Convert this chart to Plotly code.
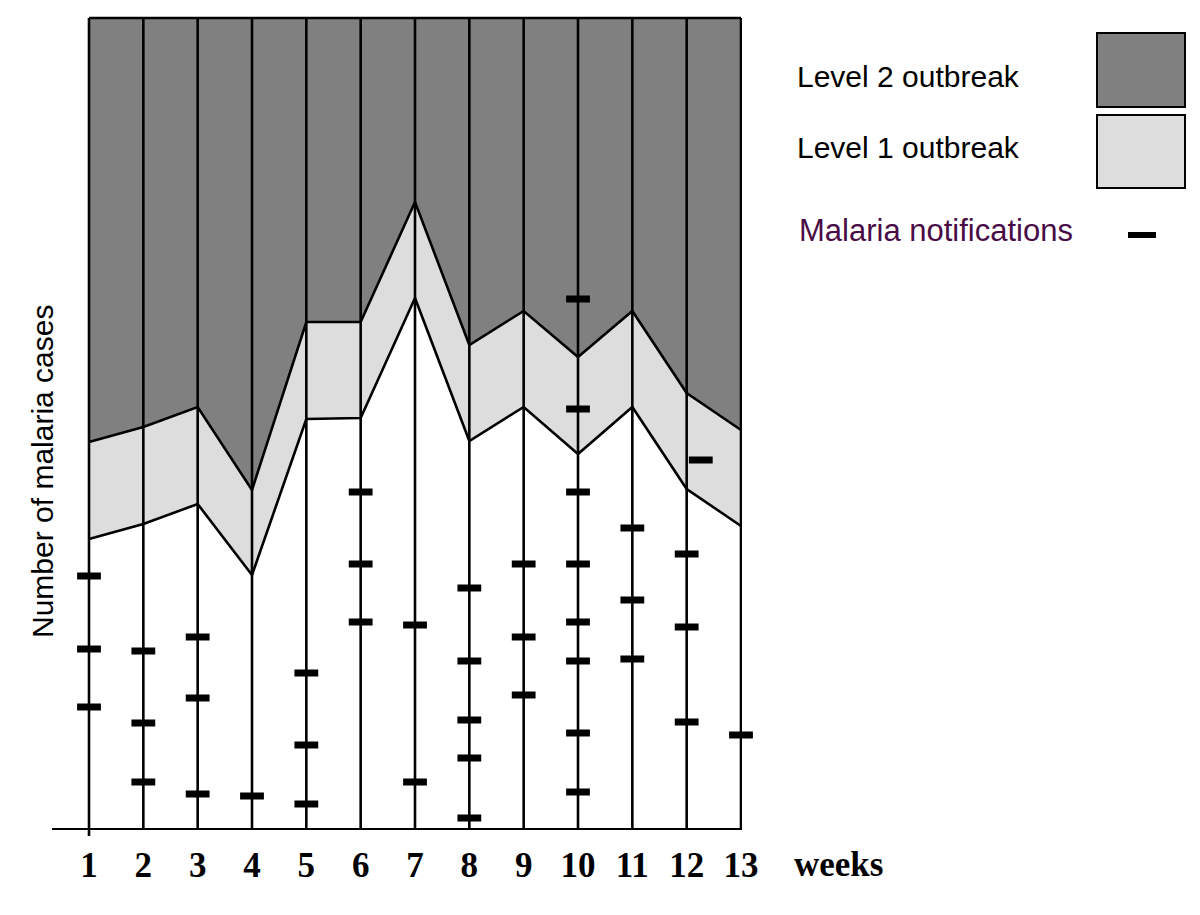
import plotly.graph_objects as go

# ---------------- data ----------------
weeks = [1, 2, 3, 4, 5, 6, 7, 8, 9, 10, 11, 12, 13]
week_labels = ["1", "2", "3", "4", "5", "6", "7", "8", "9", "10", "11", "12", "13"]
level1_threshold = [28.9, 30.4, 32.4, 25.3, 40.9, 41.0, 53.0, 38.7, 42.1, 37.4, 42.1, 33.9, 30.2]
level2_threshold = [38.6, 40.1, 42.1, 33.8, 50.6, 50.6, 62.6, 48.3, 51.7, 47.1, 51.7, 43.5, 39.8]
chart_top = 81.0

notif_week = [1, 1, 1,
              2, 2, 2,
              3, 3, 3,
              4,
              5, 5, 5,
              6, 6, 6,
              7, 7,
              8, 8, 8, 8, 8,
              9, 9, 9,
              10, 10, 10, 10, 10, 10, 10, 10,
              11, 11, 11,
              12.26, 12, 12, 12,
              13]
notif_cases = [25.2, 17.9, 12.1,
               17.7, 10.5, 4.6,
               19.1, 13.0, 3.4,
               3.2,
               15.5, 8.3, 2.4,
               33.6, 26.4, 20.6,
               20.3, 4.6,
               24.0, 16.7, 10.8, 7.0, 1.0,
               26.4, 19.1, 13.3,
               52.9, 41.9, 33.6, 26.4, 20.6, 16.7, 9.5, 3.6,
               30.0, 22.8, 16.9,
               36.8, 27.4, 20.1, 10.6,
               9.3]

legend_labels = ["Level 2 outbreak", "Level 1 outbreak", "Malaria notifications"]

# ---------------- geometry (page has an 8px body margin) ----------------
OFF = 8
W, H = 1200 - OFF, 915 - OFF
L, R, T, B = 52 - OFF, 742 - OFF, 16 - OFF, 828 - OFF
DARK = "#808080"
LIGHT = "#dddddd"
LW = 2.6


def px2x(p):
    return (p - OFF - L) / (R - L)


def py2y(p):
    return (B - (p - OFF)) / (B - T)


px_per_week = (741 - 89) / 12.0
x_lo = 1 - (89 - 52) / px_per_week
x_hi = 13 + (742 - 741) / px_per_week
y_hi = chart_top + (18 - 16) / 10.0

fig = go.Figure()

# lower threshold (boundary of white area)
fig.add_trace(go.Scatter(x=weeks, y=level1_threshold, mode="lines",
                         line=dict(color="black", width=LW), hoverinfo="skip",
                         showlegend=False))
# level 1 band
fig.add_trace(go.Scatter(x=weeks, y=level2_threshold, mode="lines", fill="tonexty",
                         fillcolor=LIGHT, line=dict(color="black", width=LW),
                         hoverinfo="skip", showlegend=False))
# level 2 band up to chart top
fig.add_trace(go.Scatter(x=weeks, y=[chart_top] * len(weeks), mode="lines", fill="tonexty",
                         fillcolor=DARK, line=dict(color="black", width=LW),
                         hoverinfo="skip", showlegend=False))

# vertical week lines
vx, vy = [], []
for w in weeks:
    vx += [w, w, None]
    vy += [0, chart_top, None]
fig.add_trace(go.Scatter(x=vx, y=vy, mode="lines", line=dict(color="black", width=LW),
                         hoverinfo="skip", showlegend=False))

# malaria notifications
fig.add_trace(go.Scatter(x=notif_week, y=notif_cases, mode="markers",
                         marker=dict(symbol="line-ew", size=17,
                                     line=dict(color="black", width=7)),
                         cliponaxis=False, showlegend=False))

shapes = []
# tick at week 1
shapes.append(dict(type="line", xref="x", yref="paper", x0=1, x1=1,
                   y0=0, y1=py2y(836), line=dict(color="black", width=LW)))
# legend boxes
shapes.append(dict(type="rect", xref="paper", yref="paper",
                   x0=px2x(1097), x1=px2x(1185), y0=py2y(107), y1=py2y(33),
                   fillcolor=DARK, line=dict(color="black", width=2)))
shapes.append(dict(type="rect", xref="paper", yref="paper",
                   x0=px2x(1097), x1=px2x(1185), y0=py2y(188), y1=py2y(115),
                   fillcolor=LIGHT, line=dict(color="black", width=2)))
shapes.append(dict(type="rect", xref="paper", yref="paper",
                   x0=px2x(1128), x1=px2x(1156), y0=py2y(238), y1=py2y(232),
                   fillcolor="black", line=dict(width=0)))

annotations = [
    dict(text=legend_labels[0], xref="paper", yref="paper", x=px2x(795), y=py2y(76),
         xanchor="left", yanchor="middle", showarrow=False,
         font=dict(family="Liberation Sans, Arial", size=30, color="black")),
    dict(text=legend_labels[1], xref="paper", yref="paper", x=px2x(795), y=py2y(147),
         xanchor="left", yanchor="middle", showarrow=False,
         font=dict(family="Liberation Sans, Arial", size=30, color="black")),
    dict(text=legend_labels[2], xref="paper", yref="paper", x=px2x(797), y=py2y(231),
         xanchor="left", yanchor="middle", showarrow=False,
         font=dict(family="Liberation Sans, Arial", size=31, color="#4a0c46")),
    dict(text="Number of malaria cases", xref="paper", yref="paper",
         x=px2x(42), y=py2y(472), textangle=-90,
         xanchor="center", yanchor="middle", showarrow=False,
         font=dict(family="Liberation Sans, Arial", size=30, color="black")),
    dict(text="weeks", xref="paper", yref="paper", x=px2x(838), y=py2y(864),
         xanchor="center", yanchor="middle", showarrow=False,
         font=dict(family="Liberation Serif, Times New Roman", size=35,
                   color="black", weight="bold")),
]

fig.update_layout(
    width=W, height=H,
    margin=dict(l=L, r=W - R, t=T, b=H - B),
    paper_bgcolor="white", plot_bgcolor="white",
    shapes=shapes, annotations=annotations,
    xaxis=dict(range=[x_lo, x_hi], tickmode="array", tickvals=weeks, ticktext=week_labels,
               showgrid=False, zeroline=False, showline=True, linecolor="black",
               linewidth=2, ticks="outside", ticklen=5, tickcolor="rgba(0,0,0,0)",
               tickfont=dict(family="Liberation Serif, Times New Roman", size=35,
                             color="black", weight="bold")),
    yaxis=dict(range=[0, y_hi], showgrid=False, zeroline=False, showline=False,
               showticklabels=False, ticks=""),
)

fig.write_html("out.html")
